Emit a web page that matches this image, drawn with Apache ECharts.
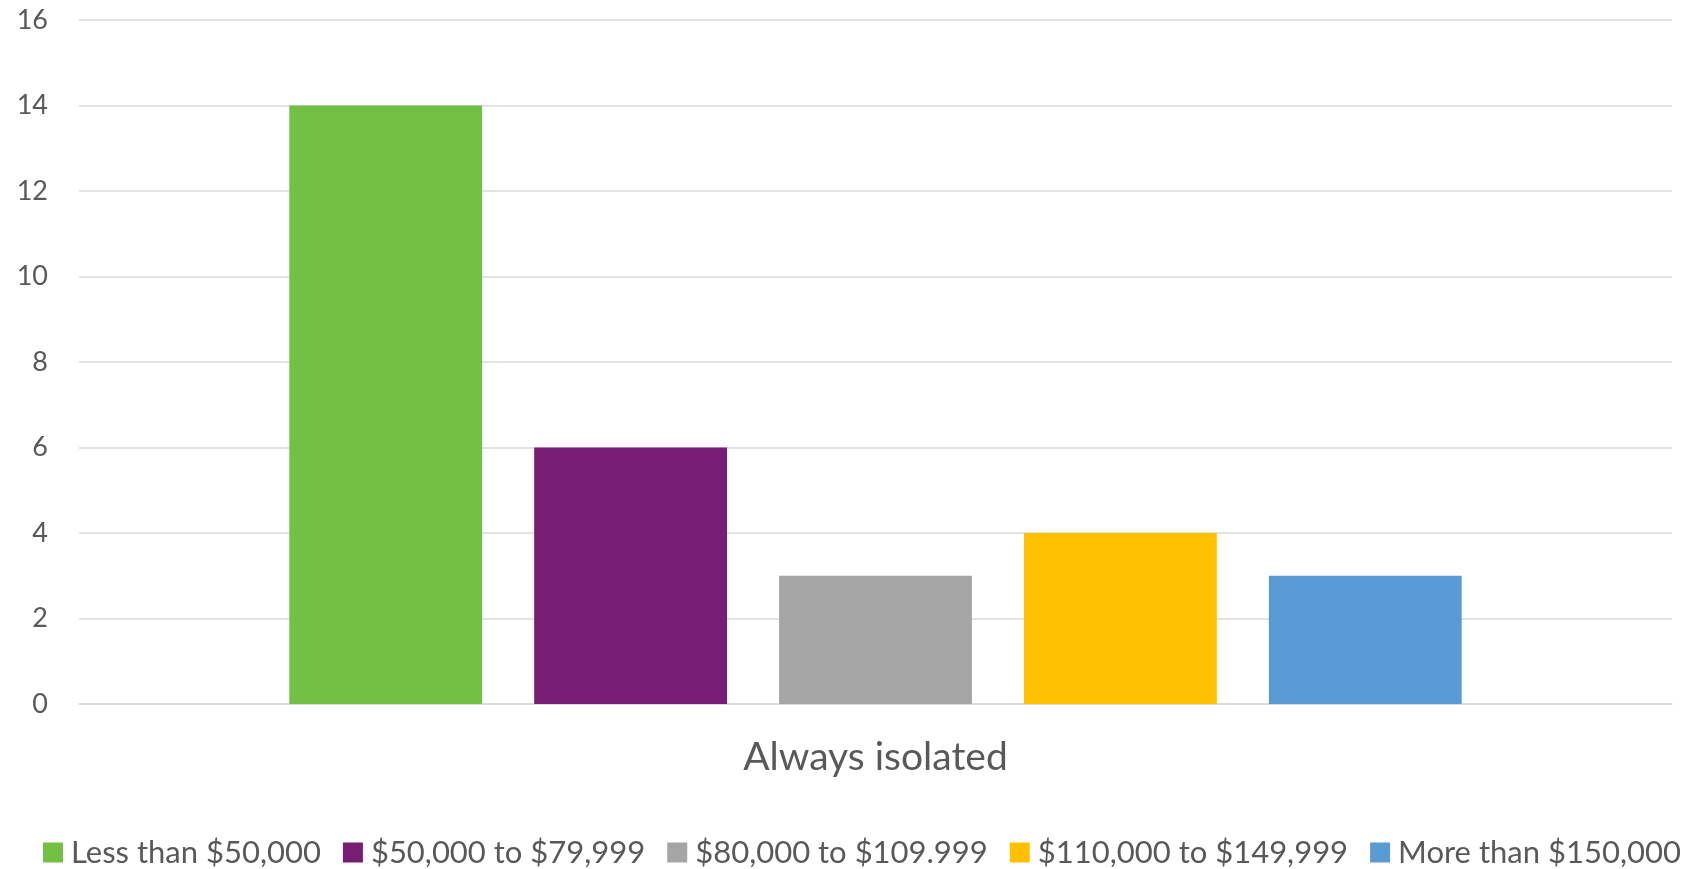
<!DOCTYPE html>
<html>
<head>
<meta charset="utf-8">
<title>Always isolated by income</title>
<script src="https://cdn.jsdelivr.net/npm/echarts@6/dist/echarts.min.js"></script>
<style>
  html, body { margin: 0; padding: 0; background: #ffffff; }
  #chart { width: 1699px; height: 869px; }
</style>
</head>
<body>
<div id="chart"></div>
<script>
// Category on the x axis
const categories = ['Always isolated'];

// Income brackets (one series each) and their counts
const seriesNames = [
  'Less than $50,000',
  '$50,000 to $79,999',
  '$80,000 to $109.999',
  '$110,000 to $149,999',
  'More than $150,000'
];
const seriesValues = [
  [14],
  [6],
  [3],
  [4],
  [3]
];
const seriesColors = ['#72C044', '#771D74', '#A5A5A5', '#FFC000', '#5B9BD5'];

// Value axis range
const yMin = 0;
const yMax = 16;
const yStep = 2;

const textColor = '#595959';
const gridColor = '#D9D9D9';
const fontFamily = 'Lato, "Open Sans", sans-serif';

const chart = echarts.init(document.getElementById('chart'), null, { renderer: 'canvas' });

const series = seriesNames.map((name, i) => ({
  name: name,
  type: 'bar',
  data: seriesValues[i],
  itemStyle: { color: seriesColors[i] },
  barGap: '27%',
  barCategoryGap: '26.4%',
  emphasis: { disabled: true }
}));

chart.setOption({
  animation: false,
  textStyle: { fontFamily: fontFamily },
  grid: { left: 79, right: 27, top: 20, bottom: 165, containLabel: false },
  legend: {
    data: seriesNames,
    top: 832,
    left: 38,
    itemWidth: 20,
    itemHeight: 20,
    itemGap: 22,
    icon: 'rect',
    textStyle: { color: textColor, fontSize: 31, fontFamily: fontFamily, padding: [0, 0, 0, 3] }
  },
  xAxis: {
    type: 'category',
    data: categories,
    axisLine: { show: true, lineStyle: { color: gridColor, width: 1.5 } },
    axisTick: { show: false },
    axisLabel: { color: textColor, fontSize: 39, margin: 34, fontFamily: fontFamily },
    splitLine: { show: false }
  },
  yAxis: {
    type: 'value',
    min: yMin,
    max: yMax,
    interval: yStep,
    axisLine: { show: false },
    axisTick: { show: false },
    axisLabel: { color: textColor, fontSize: 27, margin: 31, fontFamily: fontFamily },
    splitLine: { show: true, lineStyle: { color: gridColor, width: 1.5 } }
  },
  series: series
});
</script>
</body>
</html>
